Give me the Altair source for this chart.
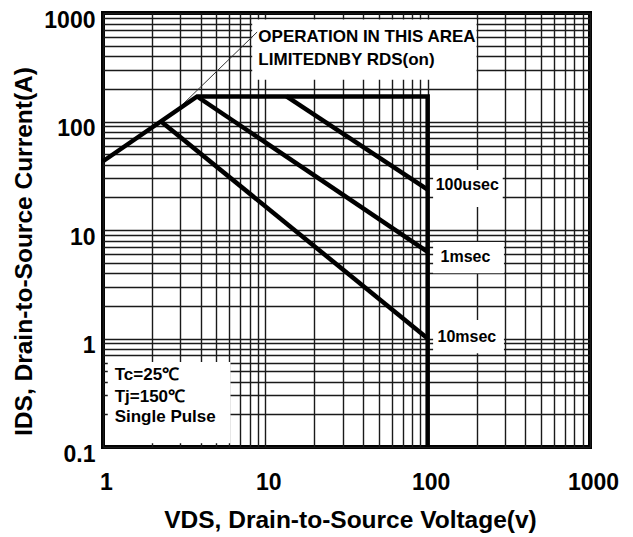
import altair as alt
import pandas as pd

# ---- axis values ----
x_major = [1, 10, 100, 1000]
y_major = [0.1, 1, 10, 100, 1000]
steps = [1, 2, 3, 4, 5, 6, 7, 8, 9]
x_grid = [m * d for d in [1, 10, 100] for m in steps] + [1000]
y_grid = [m * d for d in [0.1, 1, 10, 100] for m in steps] + [1000]

# ---- SOA curves (VDS in V, IDS in A) ----
bound_v = [1, 3.8, 100, 100]
bound_i = [43, 170, 170, 0.1]
us100_v = [13.5, 100]
us100_i = [170, 23.5]
ms1_v = [3.8, 100]
ms1_i = [170, 6.3]
ms10_v = [2.3, 100]
ms10_i = [99, 1.0]

# pointer line for the Rds(on) note
ptr_v = [3.07, 8.9]
ptr_i = [142, 668]

# ---- annotation texts ----
note_text = ["OPERATION IN THIS AREA", "LIMITEDNBY RDS(on)"]
note_v = [9.06, 9.06]
note_i = [601, 369]

cond_text = ["Tc=25℃", "Tj=150℃", "Single Pulse"]
cond_v = [1.18, 1.18, 1.18]
cond_i = [0.461, 0.289, 0.189]

pulse_text = ["100usec", "1msec", "10msec"]
pulse_v = [112, 120, 115]
pulse_i = [26, 5.64, 1.03]

# white label backgrounds
box_v = [8.3, 1.07, 108, 108, 108]
box_v2 = [200, 6.1, 290, 295, 295]
box_i = [870, 0.108, 16.3, 4.0, 0.73]
box_i2 = [242, 0.607, 35.7, 7.75, 1.48]

FONT = "Liberation Sans"

rows = []
for name, vs, is_ in [("boundary", bound_v, bound_i), ("100usec", us100_v, us100_i),
                      ("1msec", ms1_v, ms1_i), ("10msec", ms10_v, ms10_i)]:
    for k, (v, i) in enumerate(zip(vs, is_)):
        rows.append({"s": name, "k": k, "v": v, "i": i})
lines_df = pd.DataFrame(rows)
ptr_df = pd.DataFrame({"v": ptr_v, "i": ptr_i, "k": [0, 1]})
note_df = pd.DataFrame({"v": note_v, "i": note_i, "t": note_text})
cond_df = pd.DataFrame({"v": cond_v, "i": cond_i, "t": cond_text})
pulse_df = pd.DataFrame({"v": pulse_v, "i": pulse_i, "t": pulse_text})
box_df = pd.DataFrame({"v": box_v, "v2": box_v2, "i": box_i, "i2": box_i2})

xscale = alt.Scale(type="log", domain=[1, 1000], nice=False)
yscale = alt.Scale(type="log", domain=[0.1, 1000], nice=False)

xaxis = alt.Axis(
    values=x_grid, grid=True, gridColor="#1a1a1a", gridWidth=1.4,
    ticks=False, tickSize=0, domain=False, format="~g",
    labelExpr="indexof([1,10,100,1000], datum.value) >= 0 ? datum.label : ''",
    labelFont=FONT, labelFontSize=23, labelFontWeight="bold", labelColor="black",
    labelPadding=35, labelBaseline="middle", labelFlush=False, labelOverlap=False,
    labelOffset=3,
    title="VDS, Drain-to-Source Voltage(v)", titleFont=FONT, titleFontSize=24.5,
    titleFontWeight="bold", titleColor="black", titleX=247, titleY=73,
    titleBaseline="middle", titleAlign="center",
)
yaxis = alt.Axis(
    values=y_grid, grid=True, gridColor="#1a1a1a", gridWidth=1.4,
    ticks=False, tickSize=0, domain=False, format="~g",
    labelExpr="indexof([0.1,1,10,100,1000], datum.value) >= 0 ? datum.label : ''",
    labelFont=FONT, labelFontSize=23, labelFontWeight="bold", labelColor="black",
    labelPadding=8, labelBaseline="middle", labelOverlap=False, labelFlush=False,
    labelOffset=7,
    title="IDS, Drain-to-Source Current(A)", titleFont=FONT, titleFontSize=24.5,
    titleFontWeight="bold", titleColor="black", titleX=-79, titleY=238,
    titleAngle=270, titleBaseline="middle", titleAlign="center",
)

X = alt.X("v:Q", scale=xscale, axis=xaxis)
Y = alt.Y("i:Q", scale=yscale, axis=yaxis)

boxes = alt.Chart(box_df).mark_rect(fill="white").encode(
    x=X, x2="v2:Q", y=Y, y2="i2:Q"
)
pointer = alt.Chart(ptr_df).mark_line(color="#333", strokeWidth=1).encode(
    x=X, y=Y, order="k:Q"
)
curves = alt.Chart(lines_df).mark_line(
    color="black", strokeWidth=4.5, strokeJoin="miter", strokeCap="butt"
).encode(x=X, y=Y, detail="s:N", order="k:Q")
notes = alt.Chart(note_df).mark_text(
    font=FONT, fontSize=17, fontWeight="bold", align="left", baseline="middle", color="black"
).encode(x=X, y=Y, text="t:N")
conds = alt.Chart(cond_df).mark_text(
    font=FONT, fontSize=17, fontWeight="bold", align="left", baseline="middle", color="black"
).encode(x=X, y=Y, text="t:N")
pulses = alt.Chart(pulse_df).mark_text(
    font=FONT, fontSize=16, fontWeight="bold", align="left", baseline="middle", color="black"
).encode(x=X, y=Y, text="t:N")

chart = alt.layer(boxes, pointer, curves, notes, conds, pulses).properties(
    width=487, height=434,
    padding={"left": 95, "top": 5, "right": 30, "bottom": 90},
    autosize=alt.AutoSizeParams(type="none"),
).configure_view(stroke="black", strokeWidth=4)

chart.save("out.html", embed_options={"renderer": "svg", "actions": False})
